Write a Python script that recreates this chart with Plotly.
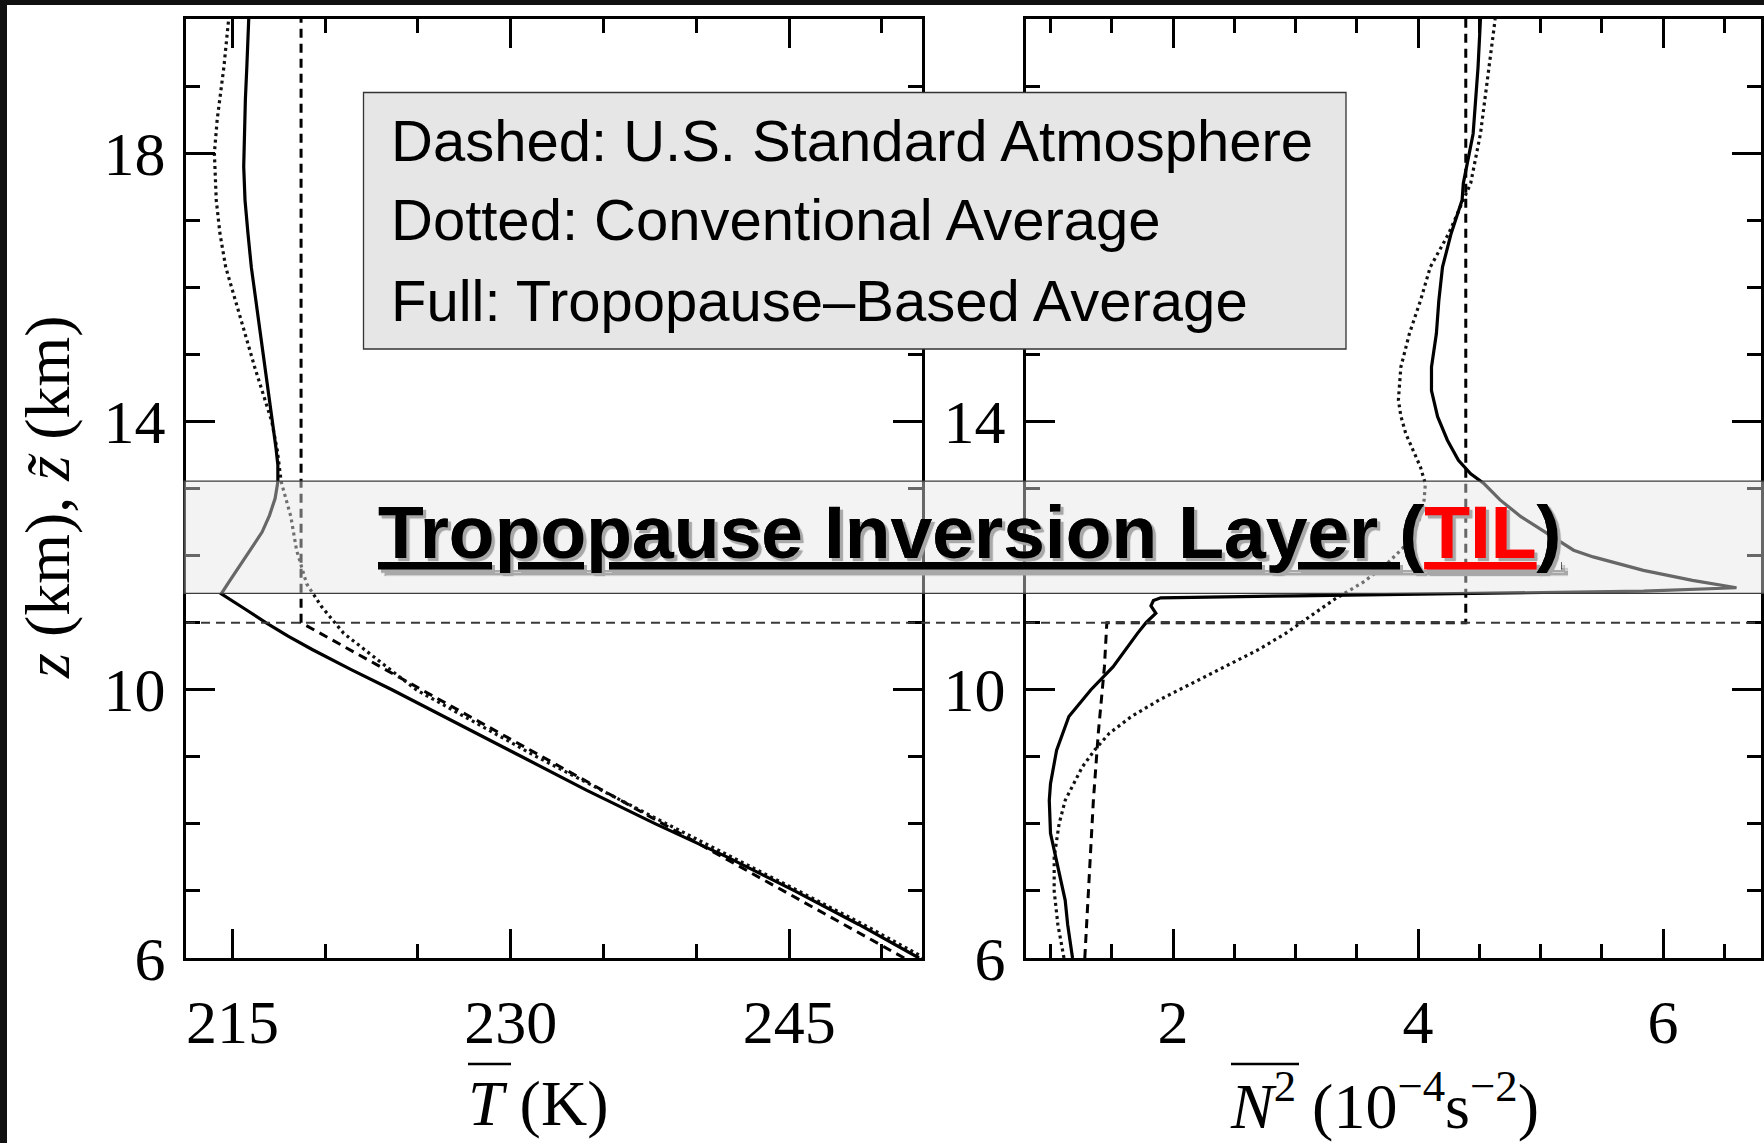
import plotly.graph_objects as go

W, H = 1764, 1143

# ---------------- data ----------------
# Left panel: mean temperature profiles T (K) vs altitude z (km)
z_T_full = [6.0, 6.5, 7.0, 7.5, 8.0, 8.5, 9.0, 9.5, 10.0, 10.3, 10.6, 10.8, 11.0, 11.2, 11.43,
            11.6, 11.85, 12.1, 12.35, 12.6, 12.85, 13.1, 13.35, 13.6, 14.0, 14.3, 14.8, 15.3,
            15.8, 16.3, 16.8, 17.3, 17.8, 18.3, 18.8, 19.3, 20.0]
T_full = [252.0, 248.75, 245.3, 241.7, 237.8, 234.1, 230.6, 227.1, 223.6, 221.4, 219.3, 218.0,
          216.8, 215.7, 214.4, 214.8, 215.4, 216.0, 216.6, 217.0, 217.3, 217.45, 217.45, 217.35,
          217.15, 217.0, 216.77, 216.5, 216.25, 216.02, 215.84, 215.68, 215.61, 215.64, 215.7,
          215.78, 215.88]

z_T_dot = [6.0, 6.5, 7.0, 8.0, 9.0, 10.0, 10.43, 10.84, 11.24, 11.58, 12.08, 12.58, 13.1, 13.57,
           14.0, 14.32, 14.82, 15.31, 15.8, 16.3, 16.8, 17.3, 18.0, 18.5, 19.28, 20.0]
T_dot = [252.3, 249.0, 245.5, 238.4, 231.4, 224.9, 222.9, 221.0, 219.8, 219.0, 218.46, 218.15,
         217.63, 217.42, 217.12, 216.75, 216.19, 215.68, 215.16, 214.64, 214.33, 214.13, 214.03,
         214.18, 214.54, 214.8]

z_T_dash = [6.0, 11.0, 20.0]
T_dash = [251.2, 218.7, 218.7]

# Right panel: buoyancy frequency squared N^2 (1e-4 s^-2) vs altitude z (km)
z_N_full = [6.0, 6.5, 6.86, 7.36, 7.86, 8.35, 8.6, 9.1, 9.6, 10.0, 10.34, 10.84, 11.0, 11.14,
            11.25, 11.33, 11.37, 11.40, 11.43, 11.47, 11.52, 11.63, 11.78, 11.98, 12.08, 12.33,
            12.58, 12.83, 13.07, 13.22, 13.42, 13.72, 14.07, 14.46, 14.81, 15.31, 15.8, 16.3,
            16.8, 17.3, 17.55, 18.29, 19.28, 20.0]
N_full = [1.18, 1.14, 1.12, 1.06, 1.0, 0.99, 1.0, 1.05, 1.15, 1.33, 1.51, 1.71, 1.78, 1.86,
          1.82, 1.84, 1.9, 3.0, 4.27, 5.84, 6.6, 6.24, 5.84, 5.43, 5.27, 5.05, 4.84, 4.67, 4.54,
          4.43, 4.33, 4.24, 4.16, 4.11, 4.11, 4.15, 4.17, 4.2, 4.27, 4.36, 4.37, 4.45, 4.49, 4.51]

z_N_dot = [6.0, 6.5, 7.0, 7.5, 8.0, 8.35, 8.85, 9.1, 9.35, 9.6, 9.85, 10.1, 10.34, 10.6, 10.84,
           11.1, 11.35, 11.6, 11.85, 12.1, 12.33, 12.58, 12.83, 13.07, 13.32, 13.57, 13.82,
           14.08, 14.32, 14.81, 15.31, 15.8, 16.3, 16.8, 17.05, 17.55, 18.29, 19.28, 20.0]
N_dot = [1.11, 1.06, 1.03, 1.03, 1.07, 1.12, 1.26, 1.36, 1.48, 1.66, 1.89, 2.16, 2.43, 2.7,
         2.92, 3.12, 3.32, 3.55, 3.73, 3.87, 3.96, 4.02, 4.05, 4.06, 4.02, 3.96, 3.9, 3.86,
         3.84, 3.86, 3.93, 4.02, 4.1, 4.25, 4.31, 4.43, 4.51, 4.58, 4.63]

z_N_dash = [6.0, 8.35, 9.35, 10.34, 11.0, 11.0, 20.0]
N_dash = [1.28, 1.35, 1.39, 1.44, 1.46, 4.39, 4.39]

# axes
T_range = [212.5, 252.16]
N_range = [0.8, 6.8]
z_range = [6, 20]
z_tropo_std = 11.0          # US standard tropopause
til_bottom, til_top = 11.435, 13.11   # TIL band

legend_lines = ["Dashed: U.S. Standard Atmosphere",
                "Dotted: Conventional Average",
                "Full: Tropopause\u2013Based Average"]
til_label = ("<u>Tropopause Inversion Layer (</u>"
             "<span style='color:#ff0000'><u>TIL</u></span><u>)</u>")
x_title_T = "<i>T</i> (K)"
x_title_N = "<i>N</i><sup>2</sup> (10<sup>\u22124</sup>s<sup>\u22122</sup>)"
y_title = "<i>z</i> (km), <i>z\u0303</i> (km)"

# ---------------- figure ----------------
def px(x):
    return x / W


def py(y):
    return 1 - y / H


SERIF = "Liberation Serif"
SANS = "Liberation Sans"

fig = go.Figure()

line_full = dict(color="black", width=3.2)
line_dash = dict(color="black", width=3, dash="9px,6px")
line_dot = dict(color="#111111", width=3.2, dash="3px,3.6px")

for xs, zs, ln, xa, ya in [
    (T_dash, z_T_dash, line_dash, "x", "y"),
    (T_dot, z_T_dot, line_dot, "x", "y"),
    (T_full, z_T_full, line_full, "x", "y"),
    (N_dash, z_N_dash, line_dash, "x2", "y2"),
    (N_dot, z_N_dot, line_dot, "x2", "y2"),
    (N_full, z_N_full, line_full, "x2", "y2"),
]:
    fig.add_trace(go.Scatter(x=xs, y=zs, mode="lines", line=ln, xaxis=xa, yaxis=ya,
                             showlegend=False, hoverinfo="skip"))

tickfont = dict(family=SERIF, size=62, color="black")
common = dict(showline=True, linecolor="black", linewidth=3, mirror="ticks",
              ticks="inside", ticklen=29, tickwidth=2.5, tickcolor="black",
              showgrid=False, zeroline=False, tickfont=tickfont, tickmode="linear",
              automargin=False)

ydom = [py(958), py(19)]
fig.update_layout(
    width=W, height=H, autosize=False,
    margin=dict(l=0, r=0, t=0, b=0, pad=0, autoexpand=False),
    paper_bgcolor="white", plot_bgcolor="rgba(0,0,0,0)",
    xaxis=dict(domain=[px(186), px(922)], range=T_range, anchor="y",
               tick0=215, dtick=15, ticklabelstandoff=8,
               minor=dict(ticks="inside", ticklen=14, tickwidth=2.5, tickcolor="black",
                          tick0=215, dtick=5, showgrid=False), **common),
    yaxis=dict(domain=ydom, range=z_range, anchor="x",
               tick0=6, dtick=4, ticklabelstandoff=5,
               minor=dict(ticks="inside", ticklen=14, tickwidth=2.5, tickcolor="black",
                          tick0=6, dtick=1, showgrid=False), **common),
    xaxis2=dict(domain=[px(1026), px(1761)], range=N_range, anchor="y2",
                tick0=0, dtick=2, ticklabelstandoff=8,
                minor=dict(ticks="inside", ticklen=14, tickwidth=2.5, tickcolor="black",
                           tick0=0, dtick=0.5, showgrid=False), **common),
    # the "18" label of the right panel sits hidden behind the legend box in the original
    yaxis2=dict(domain=ydom, range=z_range, anchor="x2",
                tick0=6, dtick=4, ticklabelstandoff=5, labelalias={"18": ""},
                minor=dict(ticks="inside", ticklen=14, tickwidth=2.5, tickcolor="black",
                           tick0=6, dtick=1, showgrid=False), **common),
)

shapes = [
    # US standard tropopause reference line across both panels
    dict(type="line", xref="paper", yref="y", x0=px(186), x1=px(1761),
         y0=z_tropo_std, y1=z_tropo_std, line=dict(color="#3a3a3a", width=2, dash="9px,6px"),
         layer="above"),
    # TIL band (semi-transparent)
    dict(type="rect", xref="paper", yref="y", x0=px(184), x1=1.02, y0=til_bottom, y1=til_top,
         fillcolor="rgba(228,228,228,0.45)", line=dict(color="#3c3c3c", width=1.3),
         layer="above"),
    # legend box
    dict(type="rect", xref="paper", yref="paper", x0=px(363.5), x1=px(1346),
         y0=py(349), y1=py(92.5), fillcolor="#e6e6e6", line=dict(color="#333333", width=1.3),
         layer="above"),
    # overline bars of the axis-title symbols (T-bar, N^2-bar)
    dict(type="line", xref="paper", yref="paper", x0=px(468), x1=px(511),
         y0=py(1064), y1=py(1064), line=dict(color="black", width=2.5), layer="above"),
    dict(type="line", xref="paper", yref="paper", x0=px(1231), x1=px(1299),
         y0=py(1064), y1=py(1064), line=dict(color="black", width=2.5), layer="above"),
    # dark slide frame at top and left
    dict(type="rect", xref="paper", yref="paper", x0=0, x1=1, y0=py(5), y1=1,
         fillcolor="#111111", line=dict(width=0), layer="above"),
    dict(type="rect", xref="paper", yref="paper", x0=0, x1=px(7), y0=0, y1=1,
         fillcolor="#111111", line=dict(width=0), layer="above"),
]
fig.update_layout(shapes=shapes)

ann = []
for i, txt in enumerate(legend_lines):
    ann.append(dict(text=txt, xref="paper", yref="paper", x=px(389), y=py(140 + 80 * i),
                    xanchor="left", yanchor="middle", showarrow=False,
                    font=dict(family=SANS, size=58, color="black")))
ann.append(dict(text=til_label, xref="paper", yref="paper", x=px(970), y=py(532),
                xanchor="center", yanchor="middle", showarrow=False,
                font=dict(family=SANS, size=75, color="black", weight="bold",
                          shadow="3px 3px 1px #a8a8a8")))
ann.append(dict(text=x_title_T, xref="paper", yref="paper", x=px(538), y=py(1103),
                xanchor="center", yanchor="middle", showarrow=False,
                font=dict(family=SERIF, size=64, color="black")))
ann.append(dict(text=x_title_N, xref="paper", yref="paper", x=px(1384), y=py(1101),
                xanchor="center", yanchor="middle", showarrow=False,
                font=dict(family=SERIF, size=64, color="black")))
ann.append(dict(text=y_title, xref="paper", yref="paper", x=px(48), y=py(497),
                xanchor="center", yanchor="middle", textangle=-90, showarrow=False,
                font=dict(family=SERIF, size=64, color="black")))
fig.update_layout(annotations=ann)

fig.write_html("out.html")
